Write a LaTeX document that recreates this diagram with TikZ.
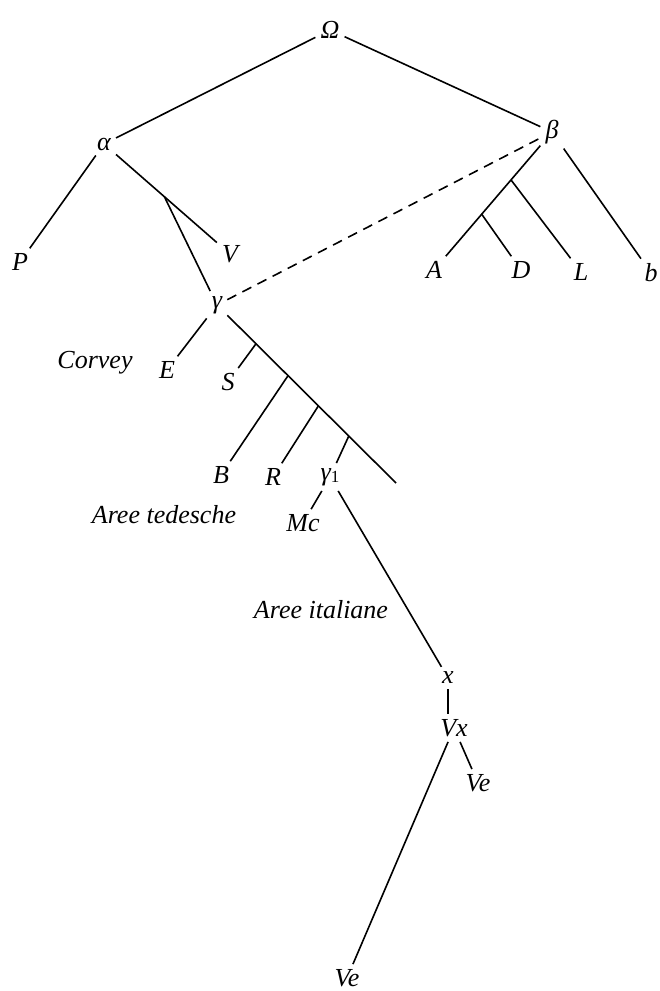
\documentclass[tikz,border=0pt]{standalone}
\usepackage{fontspec}
\setmainfont{Liberation Serif}

\begin{document}
\begin{tikzpicture}[x=1pt,y=-1pt]
			\tikzstyle{sigla}=[font=\itshape\fontsize{26}{30}\selectfont,inner sep=5pt]
			\tikzstyle{area}=[font=\itshape\fontsize{26}{30}\selectfont,inner sep=0pt]
			\tikzstyle{branch}=[draw,line width=1.6pt,-,black]
			\tikzstyle{contamination}=[branch,dash pattern=on 10pt off 7pt]
			
			\useasboundingbox (0,0) rectangle (659,991);
			
			\node[sigla] (om) at (330,30) {Ω};
			\node[sigla] (al) at (104,144) {α};
			\node[sigla] (be) at (552,132) {β};
			\node[sigla] (P) at (20,262) {P};
			\node[sigla] (V) at (230,254) {V};
			\node[sigla] (ga) at (217,305) {γ};
			\node[sigla] (A) at (434,270) {A};
			\node[sigla] (D) at (521,270) {D};
			\node[sigla] (L) at (581,272) {L};
			\node[sigla] (b) at (651,273) {b};
			\node[sigla] (E) at (167,370) {E};
			\node[sigla] (S) at (228,382) {S};
			\node[sigla] (B) at (221,475) {B};
			\node[sigla] (R) at (273,477) {R};
			\node[sigla] (ga1) at (330,477) {γ{\upshape\fontsize{17}{17}\selectfont\raisebox{-2pt}{1}}};
			\node[sigla] (Mc) at (303,523) {Mc};
			\node[sigla] (x) at (448,678) {x};
			\node[sigla] (Vx) at (454,728) {Vx};
			\node[sigla] (Ve1) at (478,783) {Ve};
			\node[sigla] (Ve2) at (347,978) {Ve};
			\coordinate (end) at (396,483);
			
			\node[area] (corvey) at (95,363) {Corvey};
			\node[area] (tedesche) at (164,515) {Aree tedesche};
			\node[area] (italiane) at (321,610) {Aree italiane};
			
			\draw[branch] (om) -- (al);
			\draw[branch] (om) -- (be);
			\draw[branch] (al) -- (P);
			\draw[branch] (al) -- node[pos=0.48,coordinate] (jV) {} (V);
			\draw[branch] (jV) -- (ga);
			\draw[contamination] (ga) -- (be);
			
			\draw[branch] (be) -- node[pos=0.31,coordinate] (jL) {} node[pos=0.62,coordinate] (jD) {} (A);
			\draw[branch] (jL) -- (L);
			\draw[branch] (jD) -- (D);
			\draw[branch] (be) -- (b);
			
			\draw[branch] (ga) -- (E);
			\draw[branch] (ga) -- node[pos=0.17,coordinate] (jS) {} node[pos=0.36,coordinate] (jB) {} node[pos=0.54,coordinate] (jR) {} node[pos=0.72,coordinate] (jG) {} (end);
			\draw[branch] (jS) -- (S);
			\draw[branch] (jB) -- (B);
			\draw[branch] (jR) -- (R);
			\draw[branch] (jG) -- (ga1);
			
			\draw[branch] (ga1) -- (Mc);
			\draw[branch] (ga1) -- (x);
			\draw[branch] (x.south) -- (x.south |- Vx.north);
			\draw[branch] (Vx) -- (Ve1);
			\draw[branch] (Vx) -- (Ve2);
		\end{tikzpicture}
\end{document}
